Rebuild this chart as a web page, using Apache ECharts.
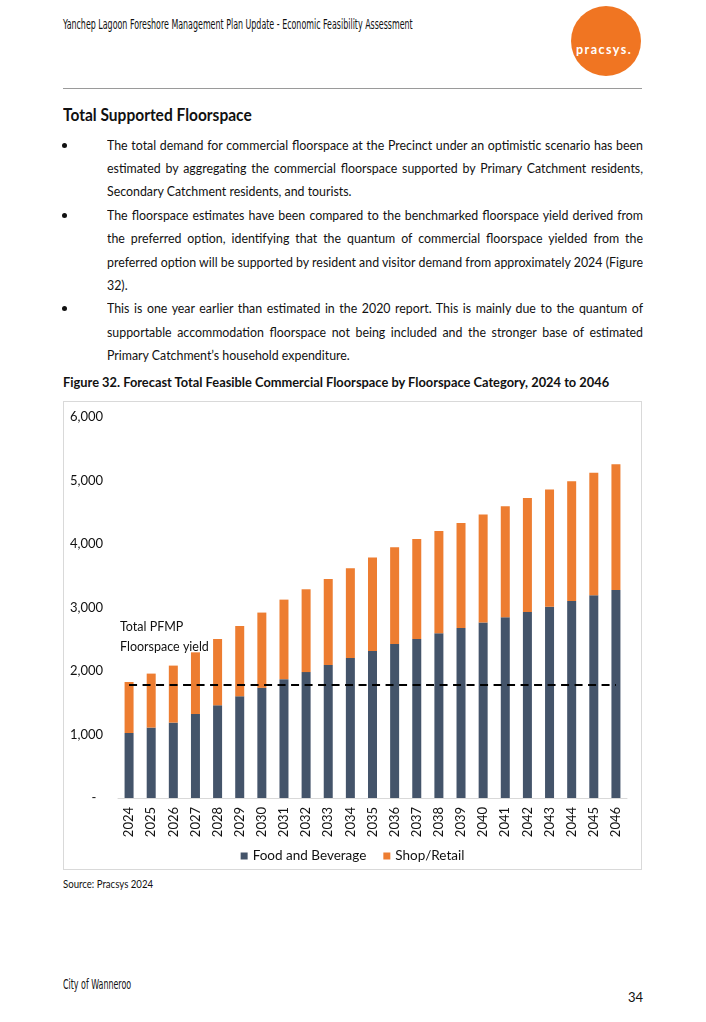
<!DOCTYPE html>
<html><head><meta charset="utf-8">
<script src="https://cdn.jsdelivr.net/npm/echarts@6/dist/echarts.min.js"></script>
<style>
html,body{margin:0;padding:0;background:#fff;width:706px;height:1022px;overflow:hidden;}
body{position:relative;font-family:Lato,"Open Sans",sans-serif;color:#111;}
.t{position:absolute;white-space:nowrap;line-height:1;transform-origin:0 50%;}
.body{font-size:13.5px;}
.j{text-align:justify;text-align-last:justify;}
.narrow{font-family:"Liberation Sans Narrow","DejaVu Sans Condensed",Lato,sans-serif;}
#rule{position:absolute;left:63px;top:88px;width:579px;height:0;border-top:1.5px solid #9a9a9a;}
#logo{position:absolute;left:571px;top:6px;width:70px;height:70px;border-radius:50%;background:#F07522;}
#frame{position:absolute;left:63px;top:401px;width:579px;height:469px;box-sizing:border-box;border:1px solid #d9d9d9;}
#chart{position:absolute;left:63px;top:401px;width:579px;height:469px;}
.bul{position:absolute;left:62px;width:5px;height:5px;border-radius:50%;background:#111;}
</style>
</head>
<body>
<div class="t narrow" data-w="350" style="left:63px;top:17px;font-size:14px;">Yanchep Lagoon Foreshore Management Plan Update - Economic Feasibility Assessment</div>
<div id="logo"></div>
<div class="t" data-w="56" style="left:576px;top:43px;font-size:13px;font-weight:bold;color:#fff;letter-spacing:1.5px;">pracsys.</div>
<div id="rule"></div>

<div class="t" data-w="189" style="left:63px;top:107px;font-size:16.5px;font-weight:bold;">Total Supported Floorspace</div>

<div class="bul" style="top:143px"></div>
<div class="bul" style="top:213px"></div>
<div class="bul" style="top:306px"></div>

<div class="t body j bl" style="left:107px;top:139px;">The total demand for commercial floorspace at the Precinct under an optimistic scenario has been</div>
<div class="t body j bl" style="left:107px;top:162px;">estimated by aggregating the commercial floorspace supported by Primary Catchment residents,</div>
<div class="t body bl" style="left:107px;top:185px;">Secondary Catchment residents, and tourists.</div>
<div class="t body j bl" style="left:107px;top:209px;">The floorspace estimates have been compared to the benchmarked floorspace yield derived from</div>
<div class="t body j bl" style="left:107px;top:232px;">the preferred option, identifying that the quantum of commercial floorspace yielded from the</div>
<div class="t body j bl" style="left:107px;top:256px;">preferred option will be supported by resident and visitor demand from approximately 2024 (Figure</div>
<div class="t body bl" style="left:107px;top:279px;">32).</div>
<div class="t body j bl" style="left:107px;top:302px;">This is one year earlier than estimated in the 2020 report. This is mainly due to the quantum of</div>
<div class="t body j bl" style="left:107px;top:326px;">supportable accommodation floorspace not being included and the stronger base of estimated</div>
<div class="t body bl" style="left:107px;top:349px;">Primary Catchment’s household expenditure.</div>

<div class="t" data-w="546" style="left:63px;top:376px;font-size:13.5px;font-weight:bold;">Figure 32. Forecast Total Feasible Commercial Floorspace by Floorspace Category, 2024 to 2046</div>

<div id="frame"></div>
<div id="chart"></div>

<div class="t" data-w="90" style="left:63px;top:878px;font-size:11px;">Source: Pracsys 2024</div>
<div class="t narrow" data-w="68" style="left:63px;top:978px;font-size:13.5px;">City of Wanneroo</div>
<div class="t" style="left:628px;top:991px;font-size:13px;">34</div>

<script>
// ---- data ----
const years = ['2024','2025','2026','2027','2028','2029','2030','2031','2032','2033','2034','2035','2036','2037','2038','2039','2040','2041','2042','2043','2044','2045','2046'];
const foodBeverage = [1024,1109,1187,1323,1460,1602,1735,1872,1983,2093,2205,2313,2425,2504,2594,2677,2762,2846,2929,3013,3101,3192,3276];
const shopRetail = [803,850,898,971,1044,1107,1185,1252,1304,1356,1412,1473,1523,1575,1611,1654,1701,1748,1795,1844,1886,1932,1979];
const pfmpYield = 1790;
const yAxisMax = 6000;
const yAxisStep = 1000;
const seriesNames = ['Food and Beverage','Shop/Retail'];
const yieldLabel = 'Total PFMP\nFloorspace yield';

// ---- text fitting ----
(function(){
  const bl = Array.from(document.querySelectorAll('.bl'));
  const target = 536;
  let s = 1;
  bl.forEach(el => { if (el.classList.contains('j')) { const w = el.scrollWidth; s = Math.min(s, target / w); } });
  bl.forEach(el => {
    if (el.classList.contains('j')) { el.style.width = (target / s) + 'px'; }
    el.style.transform = 'scaleX(' + s + ')';
  });
  document.querySelectorAll('[data-w]').forEach(el => {
    const w = +el.getAttribute('data-w');
    const nat = el.scrollWidth;
    el.style.transform = 'scaleX(' + (w / nat) + ')';
  });
})();

// ---- chart ----
const chart = echarts.init(document.getElementById('chart'), null, {renderer:'canvas'});
const font = 'Lato';
chart.setOption({
  animation: false,
  textStyle: { fontFamily: font },
  grid: { left: 55, right: 15, top: 16, bottom: 72, containLabel: false },
  xAxis: {
    type: 'category', data: years,
    axisLine: { show: true, lineStyle: { color: '#d9d9d9', width: 1 } },
    axisTick: { show: false },
    axisLabel: { rotate: 90, fontSize: 13, color: '#111', margin: 9, fontFamily: font }
  },
  yAxis: {
    type: 'value', min: 0, max: yAxisMax, interval: yAxisStep,
    axisLine: { show: false }, axisTick: { show: false }, splitLine: { show: false },
    axisLabel: { fontSize: 13, color: '#111', margin: 15, fontFamily: font,
      formatter: v => v === 0 ? '-  ' : v.toLocaleString('en-US') }
  },
  legend: {
    data: seriesNames, top: 443, left: 'center', icon: 'rect', itemWidth: 7, itemHeight: 7, itemGap: 17,
    textStyle: { fontSize: 13.5, color: '#111', fontFamily: font }
  },
  series: [
    { name: seriesNames[0], type: 'bar', stack: 'total', data: foodBeverage, barWidth: 9,
      itemStyle: { color: '#44546A' } },
    { name: seriesNames[1], type: 'bar', stack: 'total', data: shopRetail, barWidth: 9,
      itemStyle: { color: '#ED7D31' },
      markLine: { silent: true, symbol: ['none','none'], label: { show: false },
        lineStyle: { color: '#000', type: [8, 5.5], width: 2 },
        data: [[ { coord: [years[0], pfmpYield] }, { coord: [years[years.length-1], pfmpYield] } ]] } }
  ],
  graphic: [
    { type: 'text', left: 57, top: 216, z: 100, style: { text: yieldLabel, fontSize: 12.5, lineHeight: 20, fill: '#111', fontFamily: font } }
  ]
});
</script>
</body></html>
